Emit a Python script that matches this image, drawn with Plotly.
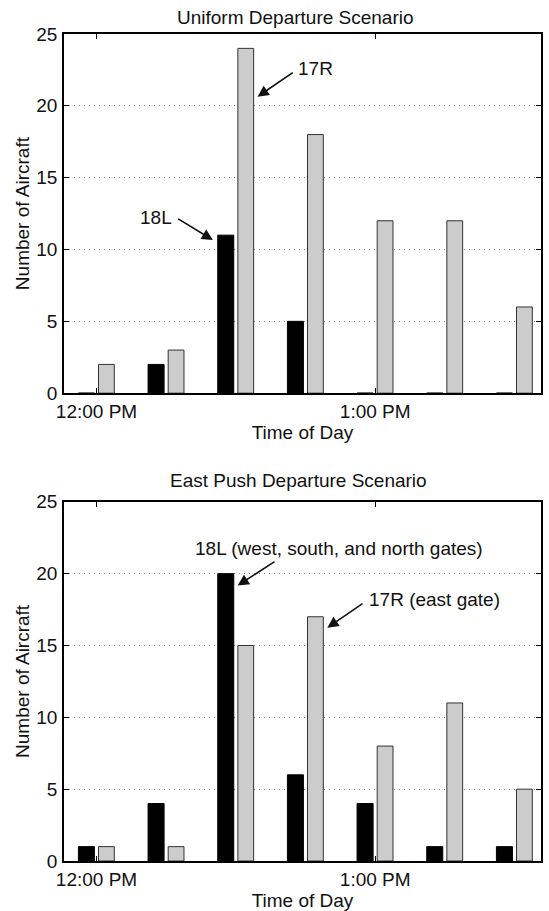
import plotly.graph_objects as go
from plotly.subplots import make_subplots

# ---- data ----
minutes = [0, 15, 30, 45, 60, 75, 90]          # minutes after 12:00 PM
tick_vals = [0, 60]
tick_text = ["12:00 PM", "1:00 PM"]

uniform_18L = [0, 2, 11, 5, 0, 0, 0]
uniform_17R = [2, 3, 24, 18, 12, 12, 6]

eastpush_18L = [1, 4, 20, 6, 4, 1, 1]
eastpush_17R = [1, 1, 15, 17, 8, 11, 5]

titles = ["Uniform Departure Scenario", "East Push Departure Scenario"]

FONT = "Liberation Sans, Arial, Helvetica, sans-serif"
TXT = "#111111"
FS = 19

fig = make_subplots(rows=2, cols=1)

panels = [(uniform_18L, uniform_17R), (eastpush_18L, eastpush_17R)]
for i, (b, g) in enumerate(panels, start=1):
    fig.add_trace(go.Bar(x=minutes, y=b, width=3.45, offset=-3.9,
                         marker=dict(color="black", line=dict(color="black", width=1)),
                         showlegend=False), row=i, col=1)
    fig.add_trace(go.Bar(x=minutes, y=g, width=3.4, offset=0.43,
                         marker=dict(color="#cccccc", line=dict(color="#333333", width=1)),
                         showlegend=False), row=i, col=1)

axis_common = dict(showline=True, linecolor="black", linewidth=1.5, mirror="ticks",
                   ticks="inside", ticklen=5, tickcolor="black",
                   tickfont=dict(family=FONT, size=FS, color=TXT))

for i in (1, 2):
    fig.update_xaxes(range=[-7.0, 95.7], tickvals=tick_vals, ticktext=tick_text,
                     showgrid=False, zeroline=False,
                     title=dict(text="Time of Day", font=dict(family=FONT, size=FS, color=TXT), standoff=2),
                     row=i, col=1, **axis_common)
    fig.update_yaxes(range=[0, 25], tickvals=[0, 5, 10, 15, 20, 25],
                     showgrid=True, gridcolor="#888888", griddash="1px,4px", gridwidth=1,
                     zeroline=False, ticklabelstandoff=1,
                     title=dict(text="Number of Aircraft", font=dict(family=FONT, size=FS, color=TXT), standoff=2),
                     row=i, col=1, **axis_common)

fig.update_layout(
    width=549, height=911,
    margin=dict(l=64, r=6, t=34, b=47),
    plot_bgcolor="white", paper_bgcolor="white",
    barmode="overlay",
    xaxis=dict(domain=[0, 1]), yaxis=dict(domain=[0.5657, 1.0]),
    xaxis2=dict(domain=[0, 1]), yaxis2=dict(domain=[0.0, 0.4343]),
)

# panel titles
fig.add_annotation(text=titles[0], xref="paper", yref="paper", x=(296.4 - 64) / 479, y=(864 - 17.5) / 830,
                   showarrow=False, font=dict(family=FONT, size=FS, color=TXT), xanchor="center", yanchor="middle")
fig.add_annotation(text=titles[1], xref="paper", yref="paper", x=(299.4 - 64) / 479, y=(864 - 482) / 830,
                   showarrow=False, font=dict(family=FONT, size=FS, color=TXT), xanchor="center", yanchor="middle")

def arrow(xr, yr, x, y, ax, ay):
    fig.add_annotation(xref=xr, yref=yr, x=x, y=y, ax=ax, ay=ay, text="",
                       showarrow=True, arrowhead=2, arrowsize=1.4, arrowwidth=1.6, arrowcolor="#111111")

def label(xr, yr, x, y, t):
    fig.add_annotation(xref=xr, yref=yr, x=x, y=y, text=t, showarrow=False,
                       font=dict(family=FONT, size=FS, color=TXT), xanchor="center", yanchor="middle")

# top panel annotations
arrow("x", "y", 34.67, 20.64, 36.7, -25)
label("x", "y", 47.2, 22.6, "17R")
arrow("x", "y", 25.06, 10.66, -36.2, -22)
label("x", "y", 12.74, 12.26, "18L")

# bottom panel annotations
arrow("x2", "y2", 30.39, 19.17, 38.4, -25)
label("x2", "y2", 52.24, 21.78, "18L (west, south, and north gates)")
arrow("x2", "y2", 49.69, 16.24, 36.7, -25)
label("x2", "y2", 72.78, 18.2, "17R (east gate)")

# remove the default 8px page margin so the figure fills the window exactly
fig.write_html("out.html", config={"displayModeBar": False},
               post_script="document.body.style.margin='0';")
